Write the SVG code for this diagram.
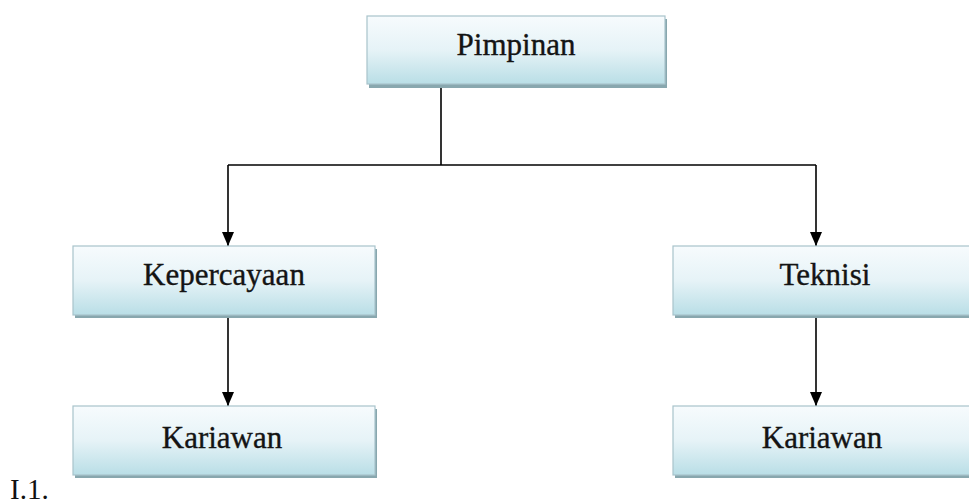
<svg xmlns="http://www.w3.org/2000/svg" width="969" height="504" viewBox="0 0 969 504">
<defs>
<linearGradient id="g" x1="0" y1="0" x2="0" y2="1">
<stop offset="0" stop-color="#f7fbfd"/>
<stop offset="0.5" stop-color="#e6f3f7"/>
<stop offset="1" stop-color="#b9dee6"/>
</linearGradient>
<marker id="ah" viewBox="0 0 14 12" refX="14" refY="6" markerWidth="14" markerHeight="12" markerUnits="userSpaceOnUse" orient="auto">
<path d="M0,0 L14,6 L0,12 Z" fill="#000"/>
</marker>
<style>
.box{fill:url(#g);stroke:#a8c3cb;stroke-width:1.2}
.sh{fill:#88a7ae}
.t{font-family:"Liberation Serif","Times New Roman",serif;font-size:31px;fill:#141414;stroke:#141414;stroke-width:0.35;text-anchor:middle}
.c{stroke:#000;stroke-width:1.6;fill:none}
</style>
</defs>
<rect width="969" height="504" fill="#fff"/>
<g id="connectors">
<path class="c" d="M441,86 V165"/>
<path class="c" d="M228,165 H816"/>
<path class="c" d="M228,165 V246" marker-end="url(#ah)"/>
<path class="c" d="M816,165 V246" marker-end="url(#ah)"/>
<path class="c" d="M228,318 V406" marker-end="url(#ah)"/>
<path class="c" d="M816,318 V406" marker-end="url(#ah)"/>
</g>
<g id="pimpinan">
<rect class="sh" x="369" y="19" width="298" height="69"/>
<rect class="box" x="367" y="16" width="298" height="68"/>
<text class="t" x="516" y="55">Pimpinan</text>
</g>
<g id="kepercayaan">
<rect class="sh" x="75" y="249" width="302" height="69"/>
<rect class="box" x="73" y="246" width="302" height="69"/>
<text class="t" x="224" y="285">Kepercayaan</text>
</g>
<g id="teknisi">
<rect class="sh" x="675" y="249" width="302" height="69"/>
<rect class="box" x="673" y="246" width="302" height="69"/>
<text class="t" x="825" y="285">Teknisi</text>
</g>
<g id="kariawan1">
<rect class="sh" x="75" y="409" width="302" height="69"/>
<rect class="box" x="73" y="406" width="302" height="69"/>
<text class="t" x="222" y="448">Kariawan</text>
</g>
<g id="kariawan2">
<rect class="sh" x="675" y="409" width="302" height="69"/>
<rect class="box" x="673" y="406" width="302" height="69"/>
<text class="t" x="822" y="448">Kariawan</text>
</g>
<text x="10" y="499" font-family="Liberation Serif, Times New Roman, serif" font-size="29" fill="#111">I.1.</text>
</svg>
